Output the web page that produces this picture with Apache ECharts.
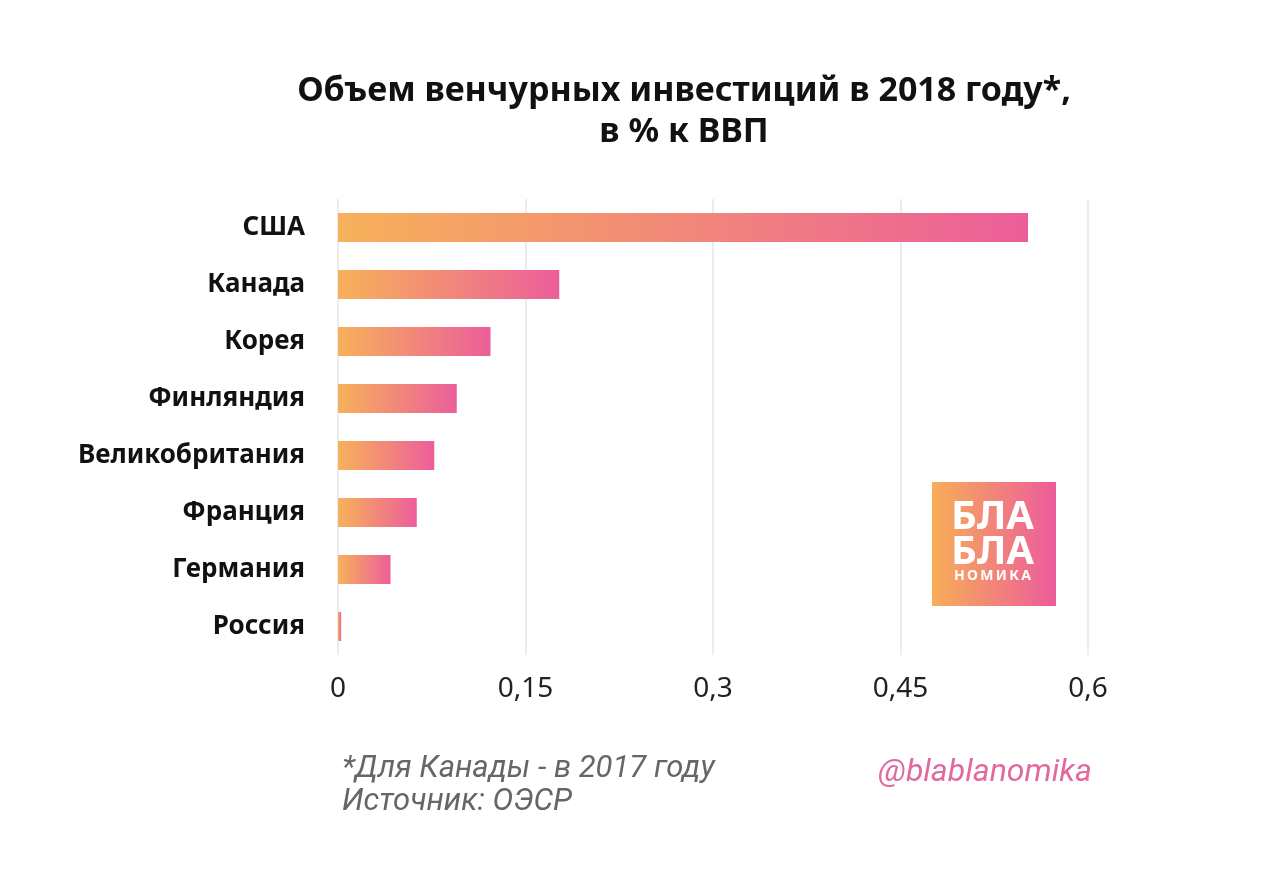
<!DOCTYPE html>
<html><head><meta charset="utf-8">
<script src="https://cdn.jsdelivr.net/npm/echarts@6/dist/echarts.min.js"></script>
<style>html,body{margin:0;padding:0;background:#fff}#c{width:1280px;height:886px}</style>
</head><body><div id="c"></div>
<script>
const categories = ['США','Канада','Корея','Финляндия','Великобритания','Франция','Германия','Россия'];
const values = [0.552, 0.177, 0.122, 0.095, 0.077, 0.063, 0.042, 0.0025];
const xTicks = [0, 0.15, 0.3, 0.45, 0.6];

const chart = echarts.init(document.getElementById('c'));
const grad = (c1, c2) => new echarts.graphic.LinearGradient(0, 0, 1, 0, [{offset:0,color:c1},{offset:1,color:c2}]);
chart.setOption({
  backgroundColor:'#fff',
  title:{
    text:'Объем венчурных инвестиций в 2018 году*,\nв % к ВВП',
    left:679, top:66, textAlign:'center',
    textStyle:{fontFamily:'Noto Sans', fontWeight:'bold', fontSize:34, lineHeight:41, color:'#111'}
  },
  grid:{left:338, top:199, width:750, height:456},
  xAxis:{
    type:'value', min:xTicks[0], max:xTicks[xTicks.length-1], interval:0.15,
    axisLine:{show:false}, axisTick:{show:false},
    splitLine:{lineStyle:{color:'#ececec', width:2}},
    axisLabel:{margin:20, fontFamily:'Noto Sans', fontSize:28, color:'#222',
      formatter:v=>String(Math.round(v*100)/100).replace('.',',')}
  },
  yAxis:{
    type:'category', data:categories, inverse:true,
    axisLine:{show:false}, axisTick:{show:false},
    axisLabel:{margin:33, fontFamily:'Noto Sans', fontWeight:'bold', fontSize:26, color:'#111'}
  },
  series:[{
    type:'bar', data:values, barWidth:29,
    itemStyle:{color:grad('#F7B15A','#EC5E9A')}
  }],
  graphic:[
    {type:'rect', shape:{x:932,y:482,width:124,height:124}, style:{fill:grad('#F7AE58','#EC5C9B')}},
    {type:'text', left:951, top:498, style:{text:'БЛА', fill:'#fff', font:'bold 40px "Noto Sans"'}},
    {type:'text', left:951, top:533, style:{text:'БЛА', fill:'#fff', font:'bold 40px "Noto Sans"'}},
    {type:'text', left:954, top:569, style:{text:'Н\u2009О\u2009М\u2009И\u2009К\u2009А', fill:'#fff', font:'bold 14px "Noto Sans"'}},
    {type:'text', left:342, top:754, style:{text:'*Для Канады - в 2017 году', fill:'#666', font:'italic 31px "Roboto"'}},
    {type:'text', left:342, top:787, style:{text:'Источник: ОЭСР', fill:'#666', font:'italic 31px "Roboto"'}},
    {type:'text', left:878, top:757, style:{text:'@blablanomika', fill:'#E06AA0', font:'italic 32px "Roboto"'}}
  ]
});
</script></body></html>
